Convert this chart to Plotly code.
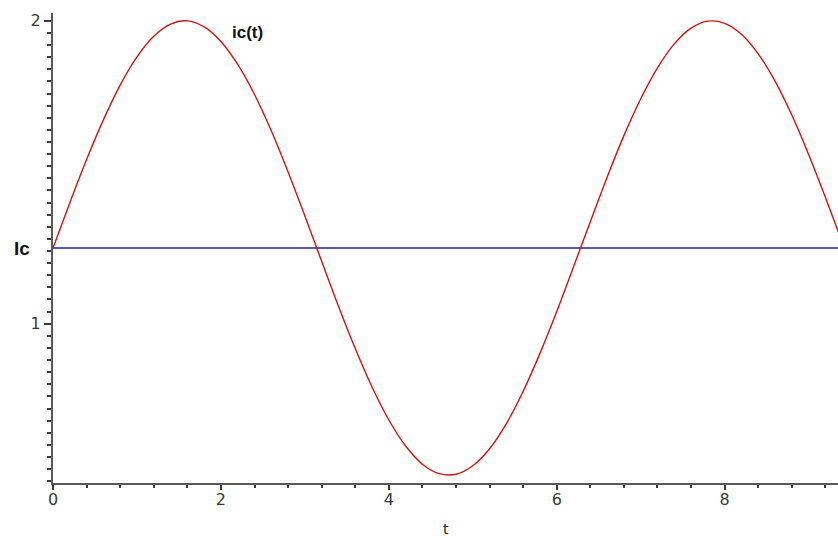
import plotly.graph_objects as go

# Capacitor current sampled over three half-periods
t_vals = [0.0, 0.2, 0.4, 0.6, 0.8, 1.0, 1.2, 1.4, 1.6, 1.8, 2.0, 2.2, 2.4, 2.6, 2.8,
          3.0, 3.2, 3.4, 3.6, 3.8, 4.0, 4.2, 4.4, 4.6, 4.8, 5.0, 5.2, 5.4, 5.6, 5.8,
          6.0, 6.2, 6.4, 6.6, 6.8, 7.0, 7.2, 7.4, 7.6, 7.8, 8.0, 8.2, 8.4, 8.6, 8.8,
          9.0, 9.2, 9.4]
ic_vals = [1.250, 1.399, 1.542, 1.673, 1.788, 1.881, 1.949, 1.989, 2.000, 1.980,
           1.932, 1.856, 1.757, 1.637, 1.501, 1.356, 1.206, 1.058, 0.918, 0.791,
           0.682, 0.596, 0.536, 0.505, 0.503, 0.531, 0.587, 0.670, 0.777, 0.902,
           1.040, 1.188, 1.337, 1.484, 1.621, 1.743, 1.845, 1.924, 1.976, 1.999,
           1.992, 1.956, 1.891, 1.801, 1.689, 1.559, 1.417, 1.269]

# Mean current level
Ic = 1.25
t_span = [0.0, 9.4]

x_ticks = [0, 2, 4, 6, 8]
y_ticks = [1, 2]

fig = go.Figure()
fig.add_trace(go.Scatter(x=t_span, y=[Ic, Ic], mode="lines",
                         line=dict(color="#22229a", width=1.4), hoverinfo="skip"))
fig.add_trace(go.Scatter(x=t_vals, y=ic_vals, mode="lines",
                         line=dict(color="#d01414", width=1.4, shape="spline", smoothing=1.0)))

axis_common = dict(showgrid=False, zeroline=False, showline=True, automargin=False,
                   linecolor="#5a5a5a", linewidth=2, ticks="outside",
                   tickcolor="#3a3a3a", tickwidth=1.5,
                   tickfont=dict(family="DejaVu Sans", size=16, color="#3a3a3a"))

fig.update_layout(
    width=838, height=538,
    margin=dict(l=53, r=0, t=13, b=55),
    paper_bgcolor="white", plot_bgcolor="white",
    showlegend=False,
    xaxis=dict(range=[0, 9.35], tickvals=x_ticks, ticklen=5, ticklabelstandoff=-4,
               minor=dict(dtick=0.4, tick0=0, ticks="outside", ticklen=3,
                          tickcolor="#3a3a3a", tickwidth=1.5),
               **axis_common),
    yaxis=dict(range=[0.474, 2.026], tickvals=y_ticks, ticklen=7,
               minor=dict(dtick=0.04, tick0=0, ticks="outside", ticklen=4,
                          tickcolor="#3a3a3a", tickwidth=1.5),
               **axis_common),
    annotations=[
        dict(text="t", x=0.5, xref="paper", y=0, yref="paper", yshift=-56,
             showarrow=False, font=dict(family="DejaVu Sans", size=14, color="#222")),
        dict(text="<b>Ic</b>", x=0, xref="paper", xshift=-41, y=Ic, yref="y",
             showarrow=False, font=dict(family="Liberation Sans", size=19, color="#111")),
        dict(text="<b>ic(t)</b>", x=2.32, y=1.963, xref="x", yref="y",
             showarrow=False, font=dict(family="Liberation Sans", size=17, color="#111")),
    ],
)

fig.write_html("out.html")
